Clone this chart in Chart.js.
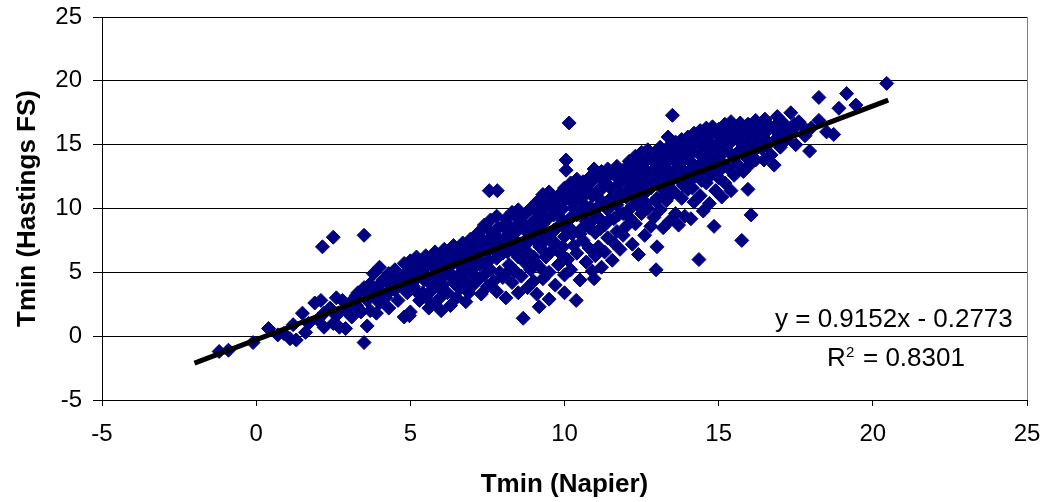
<!DOCTYPE html>
<html>
<head>
<meta charset="utf-8">
<script src="https://cdn.jsdelivr.net/npm/chart.js@4.4.1/dist/chart.umd.min.js"></script>
<style>
html,body{margin:0;padding:0;background:#fff;}
#wrap{width:1058px;height:502px;}
</style>
</head>
<body>
<div id="wrap"><canvas id="c" width="1058" height="502"></canvas></div>
<script>
// ---- Data ----
const xTicks = [-5, 0, 5, 10, 15, 20, 25];
const yTicks = [-5, 0, 5, 10, 15, 20, 25];
const trendSlope = 0.9152;
const trendIntercept = -0.2773;
const trendRange = [-2, 20.5];
const equationText = "y = 0.9152x - 0.2773";
const r2Text = "= 0.8301";

const napier = [
  -1.2,-0.9,-0.1,0.4,0.7,0.9,1.1,1.2,1.3,1.5,1.6,1.7,1.9,2.0,2.1,2.2,2.2,2.4,2.5,2.6,2.6,2.7,2.8,2.9,2.9,2.15,2.5,
  3.0,3.1,3.2,3.3,3.3,3.4,3.5,3.5,3.6,3.6,3.7,3.7,3.8,3.8,3.9,4.0,4.0,4.0,4.1,4.2,4.3,4.3,4.4,4.5,4.5,4.6,4.7,4.8,4.8,4.9,5.0,5.0,5.0,3.5,
  5.1,5.1,5.2,5.2,5.3,5.3,5.4,5.4,5.5,5.5,5.5,5.6,5.6,5.7,5.7,5.8,5.8,5.8,5.9,5.9,6.0,6.0,6.0,6.0,4.97,
  6.1,6.1,6.2,6.2,6.3,6.3,6.3,6.4,6.4,6.5,6.5,6.6,6.6,6.6,6.7,6.7,6.8,6.8,6.8,6.9,6.9,6.9,7.0,7.0,7.0,
  7.1,7.1,7.2,7.2,7.2,7.3,7.3,7.4,7.4,7.4,7.5,7.5,7.5,7.6,7.6,7.7,7.7,7.7,7.8,7.8,7.8,7.9,7.9,8.0,8.0,8.0,7.56,7.82,
  8.1,8.1,8.1,8.2,8.2,8.3,8.3,8.3,8.4,8.4,8.4,8.5,8.5,8.5,8.6,8.6,8.6,8.66,8.7,8.7,8.8,8.8,8.8,8.9,8.9,8.9,9.0,9.0,9.0,
  9.1,9.1,9.1,9.18,9.2,9.2,9.2,9.3,9.3,9.3,9.4,9.4,9.4,9.5,9.5,9.5,9.5,9.6,9.6,9.6,9.7,9.7,9.7,9.8,9.8,9.8,9.9,9.9,9.9,10.0,10.0,10.0,10.0,
  10.05,10.05,10.15,10.1,10.1,10.1,10.2,10.2,10.2,10.3,10.3,10.3,10.38,10.4,10.4,10.4,10.5,10.5,10.5,10.6,10.6,10.6,10.7,10.7,10.7,10.8,10.8,10.8,10.9,10.9,10.9,10.96,10.96,11.0,11.0,11.0,
  11.1,11.1,11.1,11.2,11.2,11.2,11.3,11.3,11.3,11.4,11.4,11.4,11.5,11.5,11.55,11.6,11.6,11.6,11.7,11.7,11.7,11.8,11.8,11.8,11.9,11.9,11.9,12.0,12.0,12.0,
  12.1,12.1,12.1,12.2,12.2,12.2,12.3,12.3,12.3,12.4,12.4,12.4,12.5,12.5,12.5,12.6,12.6,12.6,12.7,12.7,12.7,12.8,12.8,12.8,12.9,12.9,12.9,12.97,13.0,13.0,13.0,
  13.1,13.1,13.1,13.2,13.2,13.2,13.36,13.3,13.3,13.4,13.4,13.4,13.5,13.5,13.5,13.6,13.6,13.6,13.7,13.7,13.7,13.8,13.8,13.8,13.9,13.9,13.9,14.0,14.0,14.0,
  14.1,14.1,14.1,14.2,14.2,14.2,14.3,14.3,14.36,14.4,14.4,14.4,14.5,14.5,14.5,14.6,14.6,14.6,14.7,14.7,14.7,14.8,14.8,14.85,14.9,14.9,14.9,15.0,15.0,15.0,
  15.1,15.1,15.1,15.2,15.2,15.2,15.3,15.3,15.4,15.4,15.4,15.5,15.5,15.5,15.6,15.6,15.7,15.7,15.75,15.8,15.8,15.9,15.9,15.95,16.0,16.0,16.05,
  16.1,16.1,16.2,16.2,16.3,16.3,16.4,16.47,16.5,16.5,16.6,16.6,16.7,16.8,16.8,16.9,16.9,17.0,17.0,17.1,17.2,17.34,17.4,17.5,17.6,17.7,17.8,17.95,18.0,
  18.25,18.25,18.5,18.73,18.9,19.15,19.45,20.45,
  3.25,3.25,3.55,3.95,3.95,4.25,4.25,4.55,4.55,4.85,4.85,
  5.15,5.15,5.15,5.45,5.45,5.75,5.75,5.75,6.05,6.05,6.05,6.35,6.35,6.35,6.65,6.65,6.65,6.95,6.95,6.95,
  7.25,7.25,7.25,7.55,7.55,7.55,7.85,7.85,7.85,8.15,8.15,8.15,8.15,8.45,8.45,8.45,8.75,8.75,8.75,8.75,
  9.05,9.05,9.05,9.05,9.35,9.35,9.35,9.35,9.65,9.65,9.65,9.65,9.95,9.95,9.95,9.95,
  10.25,10.25,10.25,10.25,10.55,10.55,10.55,10.55,10.85,10.85,10.85,10.85,11.15,11.15,11.15,11.15,
  11.45,11.45,11.45,11.45,11.75,11.75,11.75,11.75,12.05,12.05,12.05,12.05,12.35,12.35,12.35,12.35,
  12.65,12.65,12.65,12.65,12.95,12.95,12.95,12.95,13.25,13.25,13.25,13.25,13.55,13.55,13.55,13.55,
  13.85,13.85,13.85,13.85,14.15,14.15,14.15,14.15,14.45,14.45,14.45,14.45,14.75,14.75,14.75,14.75,
  15.05,15.05,15.05,15.05,15.35,15.35,15.35,15.65,15.65,15.65,15.95,15.95,15.95,16.25,16.25,16.25,
  16.55,16.55,16.85,16.85,17.15,17.15,17.45
];
const hastings = [
  -1.2,-1.1,-0.5,0.6,0.1,0.2,-0.2,0.9,-0.3,1.8,0.3,1.0,2.6,1.3,2.8,0.7,1.8,2.2,1.0,3.0,1.6,0.7,2.8,0.6,2.0,7.0,7.75,
  2.4,1.5,3.0,3.4,2.2,1.9,3.8,-0.5,0.8,2.8,4.1,2.0,4.9,3.2,1.8,5.4,2.6,3.6,4.4,3.0,2.2,4.9,3.9,3.6,5.2,2.8,4.4,5.7,1.5,3.4,5.9,1.9,4.8,7.9,
  5.3,3.9,6.2,4.5,2.8,5.8,3.4,4.9,3.05,6.3,5.4,4.2,2.2,5.9,3.6,6.6,4.7,2.6,5.3,3.9,6.2,3.1,4.5,2.0,1.6,
  5.7,6.8,4.9,3.4,6.4,2.4,5.5,7.1,4.2,5.9,3.0,6.7,4.7,3.7,7.3,5.3,6.2,2.7,4.3,7.0,5.8,3.4,6.5,4.9,3.9,
  7.6,5.4,8.1,6.1,4.4,7.0,3.3,8.7,5.7,4.8,7.5,6.6,3.9,9.1,5.2,8.0,6.9,4.3,9.4,6.1,3.5,7.4,5.0,8.6,6.5,4.6,11.4,11.4,
  9.2,7.2,3.0,8.0,5.6,9.7,6.8,4.2,8.5,7.5,5.1,9.9,6.2,3.4,8.9,7.0,4.7,1.4,9.5,5.8,8.1,6.6,3.8,10.0,7.6,5.2,9.0,6.2,4.3,
  10.5,8.3,3.3,2.3,9.6,7.0,5.4,11.1,8.8,4.5,10.2,7.6,6.2,11.3,9.3,5.0,2.9,10.7,8.1,6.7,9.8,7.3,4.0,11.0,8.6,5.6,10.4,9.2,6.4,11.6,7.8,4.8,3.4,
  13.8,13.0,16.7,10.9,9.0,6.0,12.0,8.4,5.2,11.4,10.0,7.1,2.8,12.3,9.5,6.5,11.0,8.0,4.4,12.1,10.4,7.5,11.6,9.0,5.8,12.4,8.5,6.9,11.0,9.8,5.1,4.5,13.1,12.6,8.1,6.3,
  11.4,9.3,7.0,12.9,10.6,5.4,12.1,8.7,6.6,13.1,9.9,7.7,11.6,10.8,5.95,12.7,9.2,7.3,13.3,10.3,8.2,12.2,11.2,6.8,13.0,9.6,7.9,12.5,10.9,8.6,
  13.7,11.6,9.3,12.9,10.2,7.2,14.1,11.9,8.8,13.3,10.6,6.4,14.4,12.4,9.6,13.6,11.2,7.9,14.6,12.8,10.0,13.9,11.6,8.6,14.3,12.2,9.3,5.2,13.5,10.8,7.0,
  14.8,12.6,9.9,14.0,11.5,8.5,15.6,13.2,10.6,14.9,12.0,9.0,17.3,14.2,11.2,15.2,13.0,9.6,14.5,12.3,8.7,15.4,13.6,10.8,14.7,12.8,9.4,15.6,13.9,11.5,
  14.9,12.2,9.2,15.9,13.4,10.5,15.3,12.7,6.0,16.1,14.2,11.0,15.5,13.1,9.8,16.3,14.6,12.0,15.8,13.7,10.4,16.4,14.9,8.6,15.9,13.3,11.4,16.2,14.4,12.4,
  15.6,13.6,10.9,16.6,14.8,12.0,16.0,13.2,16.8,15.2,11.4,16.3,14.1,12.6,15.7,13.5,16.7,14.6,7.5,16.1,12.9,15.3,14.0,11.5,16.5,13.4,9.5,
  15.8,14.4,16.9,13.8,15.4,16.4,14.7,13.8,17.0,15.9,15.2,16.6,14.2,16.2,13.4,17.2,15.5,16.0,14.8,16.7,15.4,17.5,16.2,15.0,16.8,16.5,15.7,14.5,16.3,
  18.7,16.9,16.0,15.8,17.85,19.0,18.1,19.8,
  3.2,2.4,3.5,3.9,2.9,4.2,3.3,4.6,4.1,4.9,3.8,
  5.6,4.8,3.6,5.9,4.4,6.3,5.4,4.3,6.6,5.5,4.0,6.9,5.9,4.8,7.1,6.2,5.0,7.6,6.6,5.2,
  7.8,6.8,5.6,8.3,7.2,5.9,8.5,7.7,6.4,8.8,7.9,6.6,5.0,9.3,8.2,7.0,9.6,8.5,7.2,6.0,
  9.9,8.8,7.5,5.8,10.2,9.1,7.9,6.6,10.8,9.5,8.3,7.2,11.2,10.0,8.6,7.0,
  11.6,10.5,9.4,8.0,11.8,10.8,9.7,8.4,12.0,11.2,10.1,8.9,12.4,11.4,10.3,8.4,
  12.6,11.7,10.5,9.1,12.9,11.9,10.8,9.5,13.2,12.2,11.2,9.8,13.6,12.6,11.5,10.3,
  13.9,12.9,11.8,10.4,14.1,13.2,12.0,10.6,14.4,13.5,12.4,11.0,14.6,13.8,12.7,11.3,
  15.0,14.1,13.0,11.8,15.4,14.4,13.2,11.6,15.7,14.8,13.6,12.2,15.9,15.1,13.9,12.6,
  16.0,15.2,14.1,13.0,16.3,15.5,14.4,16.4,15.3,14.3,16.6,15.6,14.8,16.6,15.7,15.0,
  16.2,14.9,16.5,15.4,16.2,15.8,16.6
];

// ---- Build datasets ----
const n = Math.min(napier.length, hastings.length);
const points = [];
for (let i = 0; i < n; i++) points.push({x: napier[i], y: hastings[i]});
const trend = trendRange.map(x => ({x: x, y: trendSlope * x + trendIntercept}));

const FONT = "'Liberation Sans', Arial, Helvetica, sans-serif";

const extras = {
  id: 'extras',
  beforeDatasetsDraw(chart) {
    const {ctx, chartArea} = chart;
    ctx.save();
    ctx.strokeStyle = '#808080';
    ctx.lineWidth = 1;
    ctx.beginPath();
    ctx.moveTo(Math.round(chartArea.right) + 0.5, chartArea.top);
    ctx.lineTo(Math.round(chartArea.right) + 0.5, chartArea.bottom);
    ctx.stroke();
    ctx.restore();
  },
  afterDatasetsDraw(chart) {
    const {ctx} = chart;
    ctx.save();
    ctx.fillStyle = '#000';
    ctx.textBaseline = 'alphabetic';
    ctx.textAlign = 'left';
    ctx.font = '26px ' + FONT;
    ctx.fillText(equationText, 775, 327);
    ctx.fillText('R', 827, 366);
    ctx.fillText(r2Text, 863, 366);
    ctx.font = '15px ' + FONT;
    ctx.fillText('2', 846, 357);
    ctx.restore();
  }
};

new Chart(document.getElementById('c'), {
  type: 'scatter',
  data: {
    datasets: [
      {
        label: 'Tmin',
        data: points,
        pointStyle: 'rectRot',
        pointRadius: 7,
        pointHoverRadius: 7,
        backgroundColor: '#000080',
        borderColor: '#000080',
        borderWidth: 1,
        order: 2
      },
      {
        type: 'line',
        label: 'trend',
        data: trend,
        borderColor: '#000',
        borderWidth: 5,
        pointRadius: 0,
        fill: false,
        showLine: true,
        order: 1
      }
    ]
  },
  options: {
    responsive: false,
    animation: false,
    events: [],
    layout: {padding: {left: 0, right: 31, top: 17, bottom: 0}},
    plugins: {legend: {display: false}, tooltip: {enabled: false}},
    scales: {
      x: {
        type: 'linear',
        min: -5, max: 25,
        afterBuildTicks: s => { s.ticks = xTicks.map(v => ({value: v})); },
        afterFit: s => { s.height = 102; s.paddingLeft = 0; s.paddingRight = 0; },
        ticks: {color: '#000', font: {family: FONT, size: 24}, padding: 14, maxRotation: 0},
        grid: {drawOnChartArea: false, drawTicks: true, tickLength: 6, color: '#000', lineWidth: 1},
        border: {display: true, color: '#000', width: 1},
        title: {display: true, text: 'Tmin (Napier)', color: '#000', font: {family: FONT, size: 26, weight: 'bold'}, padding: {top: 0, bottom: 2}}
      },
      y: {
        type: 'linear',
        min: -5, max: 25,
        afterBuildTicks: s => { s.ticks = yTicks.map(v => ({value: v})); },
        afterFit: s => { s.width = 102; s.paddingTop = 0; s.paddingBottom = 0; },
        ticks: {color: '#000', font: {family: FONT, size: 24}, padding: 11},
        grid: {drawTicks: true, tickLength: 9, color: '#000', lineWidth: 1},
        border: {display: true, color: '#000', width: 1},
        title: {display: true, text: 'Tmin (Hastings FS)', color: '#000', font: {family: FONT, size: 26, weight: 'bold'}, padding: {top: 12, bottom: 0}}
      }
    }
  },
  plugins: [extras]
});
</script>
</body>
</html>
